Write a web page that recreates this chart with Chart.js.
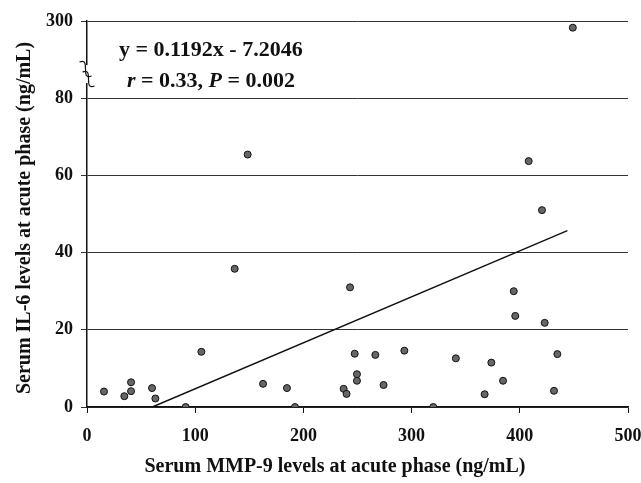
<!DOCTYPE html>
<html>
<head>
<meta charset="utf-8">
<script src="https://cdn.jsdelivr.net/npm/chart.js@4.4.1/dist/chart.umd.min.js"></script>
<style>
  html, body { margin: 0; padding: 0; background: #fff; }
  #wrap { width: 641px; height: 483px; }
</style>
</head>
<body>
<div id="wrap"><canvas id="myChart" width="641" height="483"></canvas></div>
<script>
// serum MMP-9 (x) vs IL-6 (y), ng/mL
var mmp9 = [15.7, 34.5, 40.7, 40.7, 60.1, 63.2, 91.2, 105.7, 136.5, 148.5,
            162.7, 184.8, 192.2, 237.2, 239.9, 243.1, 247.4, 249.5, 249.5, 266.5,
            274.1, 293.3, 320, 340.9, 367.5, 373.7, 384.5, 394.4, 395.8, 408.2,
            420.5, 423, 431.6, 434.7, 449];
var il6 = [4.0, 2.8, 6.4, 4.1, 4.9, 2.2, 0, 14.3, 35.8, 65.4,
           6.0, 4.9, 0, 4.7, 3.4, 31.0, 13.8, 8.5, 6.8, 13.5,
           5.7, 14.6, 0, 12.6, 3.3, 11.5, 6.8, 30.0, 23.6, 63.7,
           51.0, 21.8, 4.2, 13.7, 281];

// regression line ends
var fitX = [60.4, 444];
var fitY = [0, 45.7];

var xTicks = [0, 100, 200, 300, 400, 500];
var yTicks = [0, 20, 40, 60, 80, 300];

var eqText = "y = 0.1192x - 7.2046";

// broken axis: 0-80 linear, then 80-300 squeezed into one step
function toAxis(v) {
  return v <= 80 ? v : 80 + (v - 80) * 20 / 220;
}
function axisLabel(v) {
  var i = [0, 20, 40, 60, 80, 100].indexOf(v);
  return i < 0 ? "" : String(yTicks[i]);
}

var pts = mmp9.map(function (x, i) { return { x: x, y: toAxis(il6[i]) }; });
var fit = fitX.map(function (x, i) { return { x: x, y: toAxis(fitY[i]) }; });

var serif = "'Liberation Serif', 'DejaVu Serif', serif";

var extras = {
  id: "extras",
  afterDraw: function (chart) {
    var ctx = chart.ctx;
    var a = chart.chartArea;
    ctx.save();

    // axis break marks
    var yb = 74;
    ctx.fillStyle = "#fff";
    ctx.fillRect(a.left - 2, yb - 9, 4, 18);
    ctx.strokeStyle = "#111";
    ctx.lineWidth = 1.2;
    [-5, 5].forEach(function (off) {
      var cx = a.left + off * 0.3;
      var cy = yb + off;
      ctx.beginPath();
      ctx.moveTo(cx - 6, cy - 7);
      ctx.bezierCurveTo(cx + 6, cy - 12, cx - 6, cy + 12, cx + 6, cy + 7);
      ctx.stroke();
    });

    // equation text
    ctx.fillStyle = "#111";
    ctx.textBaseline = "alphabetic";
    ctx.textAlign = "left";
    ctx.font = "bold 22px " + serif;
    ctx.fillText(eqText, 119, 56);
    var parts = [["r", true], [" = 0.33, ", false], ["P", true], [" = 0.002", false]];
    var x = 127;
    parts.forEach(function (p) {
      ctx.font = (p[1] ? "italic bold 22px " : "bold 22px ") + serif;
      ctx.fillText(p[0], x, 87);
      x += ctx.measureText(p[0]).width;
    });

    // axis titles
    ctx.font = "bold 20px " + serif;
    ctx.textAlign = "center";
    ctx.textBaseline = "middle";
    ctx.fillText("Serum MMP-9 levels at acute phase (ng/mL)", 335, 467);
    ctx.translate(25, 218);
    ctx.rotate(-Math.PI / 2);
    ctx.fillText("Serum IL-6 levels at acute phase (ng/mL)", 0, 0);
    ctx.restore();
  }
};

new Chart("myChart", {
  type: "scatter",
  data: {
    datasets: [{
      data: pts,
      backgroundColor: "#666",
      borderColor: "#111",
      borderWidth: 1,
      pointRadius: 3.5,
      pointHoverRadius: 3.5
    }, {
      type: "line",
      data: fit,
      borderColor: "#111",
      borderWidth: 1.5,
      pointRadius: 0,
      fill: false
    }]
  },
  options: {
    responsive: false,
    animation: false,
    layout: { padding: { top: 21, right: 13, left: 0, bottom: 0 } },
    plugins: { legend: { display: false }, tooltip: { enabled: false } },
    scales: {
      x: {
        type: "linear",
        min: 0, max: 500,
        afterFit: function (s) {
          s.height = 76;
          s.paddingLeft = 0;
          s.paddingRight = 0;
        },
        afterBuildTicks: function (s) { s.ticks = xTicks.map(function (v) { return { value: v }; }); },
        border: { display: true, color: "#111", width: 1.5 },
        grid: { drawOnChartArea: false, drawTicks: true, tickLength: 6, color: "#111" },
        ticks: { color: "#111", padding: 13, maxRotation: 0, font: { family: serif, size: 18, weight: "bold" } }
      },
      y: {
        type: "linear",
        min: 0, max: 100,
        afterFit: function (s) {
          s.width = 87;
          s.paddingTop = 0;
          s.paddingBottom = 0;
        },
        border: { display: true, color: "#111", width: 1.5 },
        grid: { color: "#333", lineWidth: 1, tickLength: 6 },
        ticks: {
          stepSize: 20, color: "#111", padding: 8,
          font: { family: serif, size: 18, weight: "bold" },
          callback: axisLabel
        }
      }
    }
  },
  plugins: [extras]
});
</script>
</body>
</html>
